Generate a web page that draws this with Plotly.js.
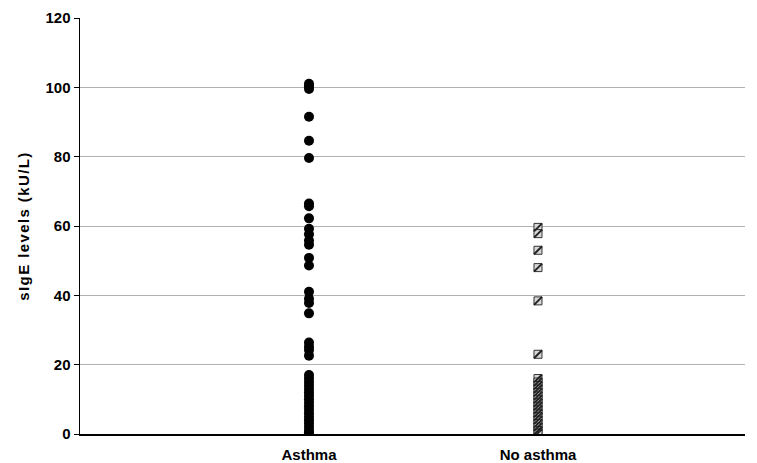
<!DOCTYPE html>
<html>
<head>
<meta charset="utf-8">
<script src="https://cdn.plot.ly/plotly-3.0.1.min.js"></script>
<style>html,body{margin:0;padding:0;background:#fff}#chart{width:757px;height:463px}
#chart .ytitle{letter-spacing:1.4px}</style>
</head>
<body>
<div id="chart"></div>
<script>
const categories = ["Asthma", "No asthma"];
const asthmaValues = [101, 100.3, 99.5, 91.5, 84.6, 79.6, 66.5, 65.7, 62.2, 59.2, 57.6, 55.8, 54.6, 50.8, 48.6,
  41, 39, 37.8, 34.8, 26.4, 25.2, 24.2, 22.6,
  17, 16, 15, 14, 13, 12, 11, 10, 9, 8, 7, 6, 5, 4, 3, 2, 1, 0.5, 0];
const noAsthmaValues = [59.6, 57.8, 53, 48, 38.4, 23,
  16, 15, 14, 13, 12, 11, 10, 9, 8, 7, 6, 5, 4, 3, 2, 1, 0.3];
const yTicks = [0, 20, 40, 60, 80, 100, 120];

const asthmaX = asthmaValues.map(() => categories[0]);
const noX = noAsthmaValues.map(() => categories[1]);

const traces = [
  {
    type: "scatter", mode: "markers", x: asthmaX, y: asthmaValues,
    marker: {symbol: "circle", size: 10, color: "#000", line: {width: 0}},
    hoverinfo: "y", showlegend: false
  },
  {
    type: "scatter", mode: "markers", x: noX, y: noAsthmaValues,
    marker: {symbol: "square", size: 8, color: "#d8d8d8", line: {width: 1, color: "#333"}},
    hoverinfo: "y", showlegend: false
  },
  {
    type: "scatter", mode: "markers", x: noX, y: noAsthmaValues,
    marker: {symbol: "line-ne", size: 8, color: "#222", line: {width: 2, color: "#222"}},
    hoverinfo: "skip", showlegend: false
  }
];

const fnt = {family: "Liberation Sans, Arial, sans-serif", size: 15, color: "#000", weight: "bold"};

const layout = {
  width: 757, height: 463,
  margin: {l: 80, r: 12, t: 18, b: 29},
  paper_bgcolor: "#fff", plot_bgcolor: "#fff",
  font: {family: "Liberation Sans, Arial, sans-serif", size: 15, color: "#000"},
  xaxis: {
    type: "category", categoryarray: categories, categoryorder: "array",
    range: [-1, 1.904],
    showgrid: false, zeroline: false,
    showline: true, linecolor: "#000", linewidth: 1.5,
    ticks: "", tickfont: fnt, ticklabelstandoff: 6,
    fixedrange: true
  },
  yaxis: {
    range: [0, 120], tickvals: yTicks, ticktext: yTicks.map(String),
    showgrid: true, gridcolor: "#b0b0b0", gridwidth: 1,
    zeroline: false, showline: true, linecolor: "#000", linewidth: 1.5,
    ticks: "outside", ticklen: 5, tickcolor: "#000", tickwidth: 1,
    tickfont: fnt,
    title: {text: "sIgE levels (kU/L)", font: fnt, standoff: 12},
    fixedrange: true
  }
};

Plotly.newPlot("chart", traces, layout, {displayModeBar: false, staticPlot: true});
</script>
</body>
</html>
